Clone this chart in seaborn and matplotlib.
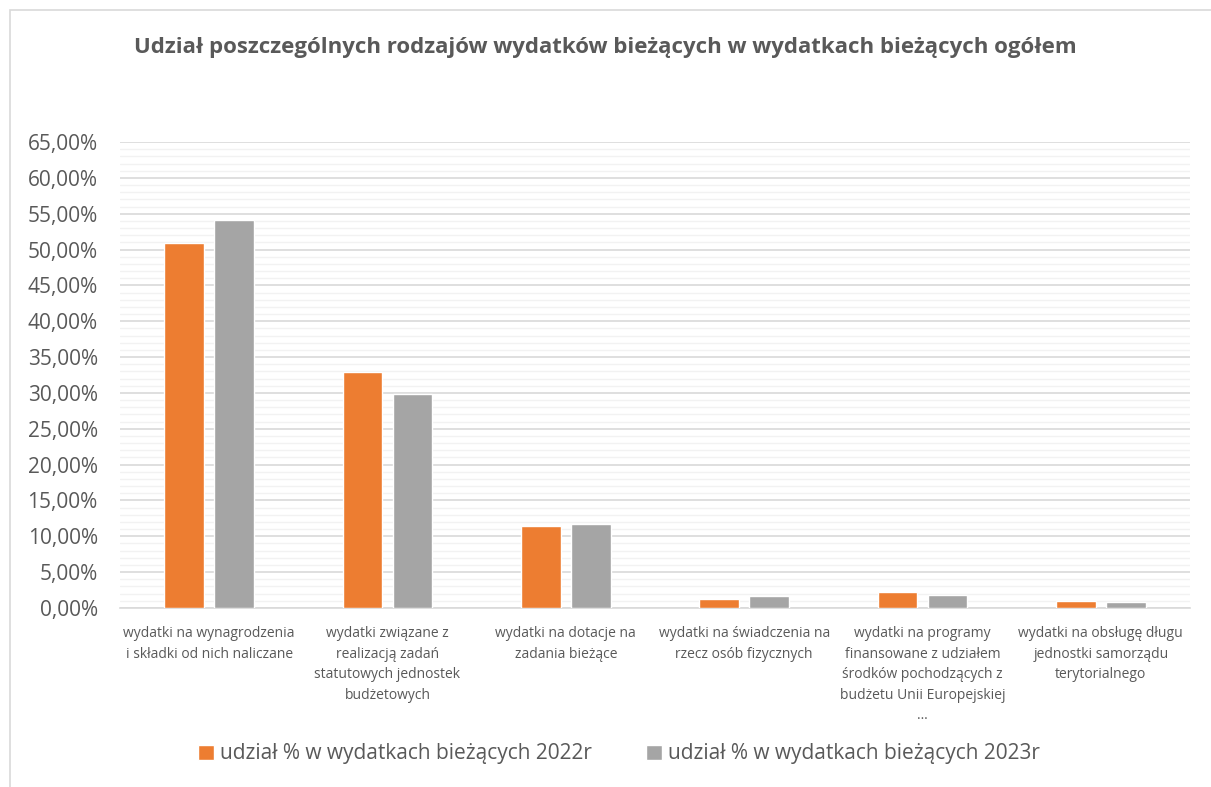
import matplotlib
matplotlib.use("Agg")
import matplotlib.pyplot as plt
from matplotlib.patches import Rectangle
from matplotlib.ticker import MultipleLocator, FuncFormatter
import seaborn as sns
import pandas as pd

categories = [
    "wydatki na wynagrodzenia\ni składki od nich naliczane",
    "wydatki związane z\nrealizacją zadań\nstatutowych jednostek\nbudżetowych",
    "wydatki na dotacje na\nzadania bieżące",
    "wydatki na świadczenia na\nrzecz osób fizycznych",
    "wydatki na programy\nfinansowane z udziałem\nśrodków pochodzących z\nbudżetu Unii Europejskiej\n…",
    "wydatki na obsługę długu\njednostki samorządu\nterytorialnego",
]
series_names = ["udział % w wydatkach bieżących 2022r", "udział % w wydatkach bieżących 2023r"]
values_2022 = [50.95, 32.95, 11.45, 1.25, 2.27, 0.93]
values_2023 = [54.15, 29.8, 11.75, 1.67, 1.77, 0.80]
title = "Udział poszczególnych rodzajów wydatków bieżących w wydatkach bieżących ogółem"

df = pd.DataFrame({
    "cat": categories * 2,
    "series": [series_names[0]] * 6 + [series_names[1]] * 6,
    "val": values_2022 + values_2023,
})

sns.set_theme(style="white")
plt.rcParams["font.family"] = ["Open Sans", "DejaVu Sans"]

W, H = 1211, 787
fig = plt.figure(figsize=(W / 100, H / 100), dpi=100)
fig.patches.append(Rectangle((10 / W, -0.1), 1.2, 1 - 10 / H + 0.1,
                             transform=fig.transFigure, fill=False,
                             edgecolor="#D9D9D9", linewidth=1.2, zorder=0))

ax = fig.add_axes([120 / W, 1 - 608 / H, (1190 - 120) / W, (608 - 142) / H])
sns.barplot(data=df, x="cat", y="val", hue="series",
            palette=["#ED7D31", "#A5A5A5"], width=0.56, gap=0.21,
            saturation=1, ax=ax, zorder=3)

ax.set_ylim(0, 65)
ax.yaxis.set_major_locator(MultipleLocator(5))
ax.yaxis.set_minor_locator(MultipleLocator(1))
ax.yaxis.set_major_formatter(FuncFormatter(lambda v, p: f"{v:.2f}".replace(".", ",") + "%"))
ax.grid(axis="y", which="major", color="#D9D9D9", linewidth=1.2, zorder=0)
ax.grid(axis="y", which="minor", color="#F2F2F2", linewidth=1.0, zorder=0)
ax.set_axisbelow(True)
for s in ["top", "right", "left"]:
    ax.spines[s].set_visible(False)
ax.spines["bottom"].set_color("#D9D9D9")
ax.spines["bottom"].set_linewidth(1.2)
ax.tick_params(axis="y", which="both", length=0, labelsize=15, labelcolor="#595959", pad=16)
ax.tick_params(axis="x", length=0, labelsize=10, labelcolor="#595959", pad=13)
for lbl in ax.get_xticklabels():
    lbl.set_verticalalignment("top")
    lbl.set_linespacing(1.5)
ax.set_xlabel("")
ax.set_ylabel("")

handles, labels = ax.get_legend_handles_labels()
ax.get_legend().remove()
fig.legend(handles, labels, loc="center", bbox_to_anchor=(619 / W, 1 - 754 / H),
           ncol=2, frameon=False, fontsize=15,
           handlelength=0.75, handleheight=0.75, handletextpad=0.3, columnspacing=2.6,
           labelcolor="#595959")

fig.text(0.5, 1 - 47 / H, title, ha="center", va="center", fontsize=16,
         fontweight="bold", color="#595959")

fig.savefig("out.png", dpi=100, facecolor="white")
